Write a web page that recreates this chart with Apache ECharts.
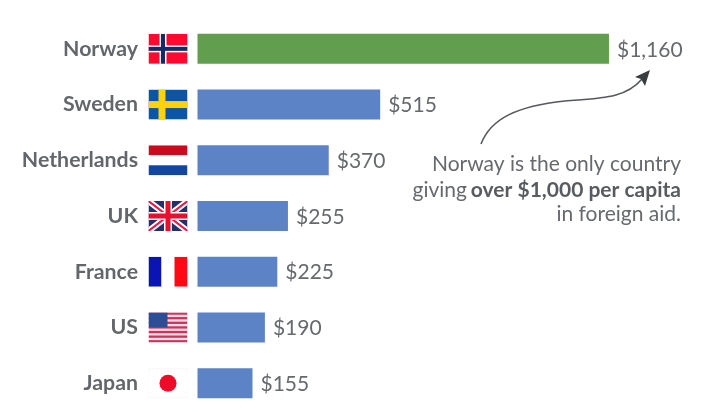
<!DOCTYPE html>
<html><head><meta charset="utf-8">
<style>html,body{margin:0;padding:0;background:#fff}#c{width:720px;height:419px}</style>
<script src="https://cdn.jsdelivr.net/npm/echarts@6/dist/echarts.min.js"></script>
</head><body><div id="c"></div>
<script>
const countries = ['Norway','Sweden','Netherlands','UK','France','US','Japan'];
const aidPerCapita = [1160,515,370,255,225,190,155];
const noteLines = ['Norway is the only country','over $1,000 per capita','in foreign aid.'];

function rects(list){return list.map(r=>`<rect x="${r[0]}" y="${r[1]}" width="${r[2]}" height="${r[3]}" fill="${r[4]}"/>`).join('');}
function usStripes(){let s='';for(let i=0;i<7;i++){s+=`<rect x="0" y="${i*60/6.5}" width="78" height="4.6" fill="#c8365f"/>`;}return s;}
const flagSvgs = {
 Norway: rects([[0,0,78,60,'#ff0a2e'],[22,0,14,60,'#fff'],[0,23,78,14,'#fff'],[25,0,8,60,'#14286e'],[0,26,78,8,'#14286e']]),
 Sweden: rects([[0,0,78,60,'#0a55a5'],[20,0,14,60,'#ffd20a'],[0,23,78,14,'#ffd20a']]),
 Netherlands: rects([[0,0,78,20,'#cc0a1e'],[0,20,78,20,'#fff'],[0,40,78,20,'#1346a0']]),
 UK: rects([[0,0,78,60,'#23306e']])+
   '<path d="M0 0L78 60M78 0L0 60" stroke="#fff" stroke-width="12"/><path d="M0 0L78 60M78 0L0 60" stroke="#e8184a" stroke-width="4"/>'+
   rects([[31,0,16,60,'#fff'],[0,22,78,16,'#fff'],[34,0,10,60,'#e8102e'],[0,25,78,10,'#e8102e']]),
 France: rects([[0,0,26,60,'#0a14b4'],[26,0,26,60,'#fff'],[52,0,26,60,'#ff0a14']]),
 US: rects([[0,0,78,60,'#f6dce4']])+usStripes()+rects([[0,0,38,30,'#2a4f96']]),
 Japan: rects([[0,0,78,60,'#fff']])+'<rect x=".5" y=".5" width="77" height="59" fill="none" stroke="#eee"/><circle cx="39" cy="30" r="17" fill="#f00a2a"/>'
};
function flagUrl(name){
 const svg=`<svg xmlns="http://www.w3.org/2000/svg" width="156" height="120" viewBox="0 0 78 60">${flagSvgs[name]}</svg>`;
 return 'data:image/svg+xml;charset=utf-8,'+encodeURIComponent(svg);
}
const GREY='#666a6e', FONT='Lato';
const chart = echarts.init(document.getElementById('c'),null,{renderer:'canvas'});
chart.setOption({
 animation:false,
 backgroundColor:'#fff',
 grid:{left:197.5,top:21,width:496.6,height:390},
 xAxis:{type:'value',min:0,max:1400,show:false},
 yAxis:{type:'category',data:countries,inverse:true,
   axisLine:{show:false},axisTick:{show:false},
   axisLabel:{margin:59.5,padding:[3,0,0,0],fontFamily:FONT,fontSize:21.3,fontWeight:'bold',color:'#63676b'}},
 series:[
  {type:'bar',barWidth:30,
   data:aidPerCapita.map((v,i)=>({value:v,itemStyle:{color:i===0?'#619e4e':'#5b83c6'}})),
   label:{show:true,position:'right',distance:8,offset:[0,1],fontFamily:FONT,fontSize:21,color:GREY,
     formatter:p=>'$'+p.value.toLocaleString('en-US')}},
  {type:'custom',silent:true,coordinateSystem:'cartesian2d',
   data:countries.map((c,i)=>[0,i]),
   renderItem:(params,api)=>{
     const p=api.coord([0,api.value(1)]);
     return {type:'image',style:{image:flagUrl(countries[params.dataIndex]),x:p[0]-49,y:p[1]-15,width:39,height:30}};
   }}
 ],
 graphic:[
  {type:'bezierCurve',shape:{x1:481,y1:144,cpx1:491,cpy1:118,cpx2:518,cpy2:106,x2:565,y2:101},style:{stroke:'#55585c',lineWidth:1.6,fill:'none'}},
  {type:'bezierCurve',shape:{x1:565,y1:101,cpx1:600,cpy1:98,cpx2:625,cpy2:99,x2:642,y2:79},style:{stroke:'#55585c',lineWidth:1.6,fill:'none'}},
  {type:'polygon',shape:{points:[[650,70],[645,86],[641,79],[635,77]]},style:{fill:'#3a3d40'}},
  {type:'text',style:{x:681,y:164,align:'right',verticalAlign:'middle',text:noteLines[0],fontFamily:FONT,fontSize:21,fill:GREY}},
  {type:'text',style:{x:681,y:190,align:'right',verticalAlign:'middle',text:noteLines[1],fontFamily:FONT,fontSize:21,fontWeight:'bold',fill:'#585b5f'}},
  {type:'text',style:{x:467,y:190,align:'right',verticalAlign:'middle',text:'giving',fontFamily:FONT,fontSize:21,fill:GREY}},
  {type:'text',style:{x:681,y:214,align:'right',verticalAlign:'middle',text:noteLines[2],fontFamily:FONT,fontSize:21,fill:GREY}}
 ]
});
</script></body></html>
